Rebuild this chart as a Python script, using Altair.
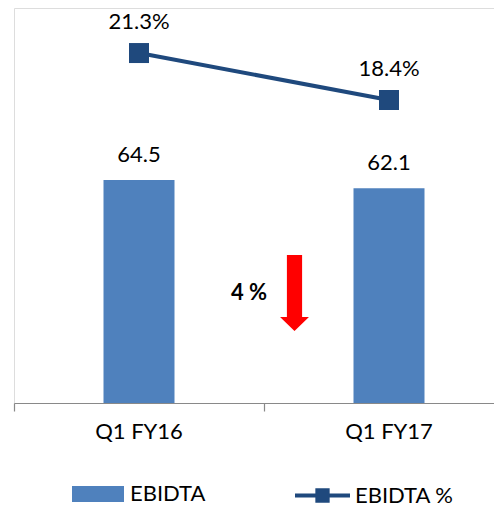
import altair as alt
import pandas as pd

# ---- data ----
categories = ["Q1 FY16", "Q1 FY17"]
ebidta = [64.5, 62.1]
ebidta_pct = [21.3, 18.4]
bar_series = "EBIDTA"
line_series = "EBIDTA %"
change_text = "4 %"

df = pd.DataFrame({
    "quarter": categories,
    "ebidta": ebidta,
    "pct": ebidta_pct,
    "bar_s": [bar_series] * len(categories),
    "line_s": [line_series] * len(categories),
})

FONT = "Lato"
BAR_C = "#4f81bd"
LINE_C = "#1f497d"
AXIS_C = "#898989"

x = alt.X(
    "quarter:N",
    sort=categories,
    scale=alt.Scale(range=[0, 500], paddingInner=0, paddingOuter=0),
    axis=alt.Axis(
        title=None, labelAngle=0, bandPosition=0, grid=False,
        domain=True, ticks=True, labels=True,
        domainColor=AXIS_C, tickColor=AXIS_C, tickSize=8, domainWidth=1.2, tickWidth=1.2,
        labelFontSize=22, labelColor="black", labelPadding=10, labelFont=FONT,
    ),
)

y_bar = alt.Y("ebidta:Q", scale=alt.Scale(domain=[0, 114.26], nice=False, zero=False), axis=None)
y_pct = alt.Y("pct:Q", scale=alt.Scale(domain=[-0.3, 24.08], nice=False, zero=False), axis=None)

bar_legend_shape = "M-1,-0.31L1,-0.31L1,0.31L-1,0.31Z"
line_legend_shape = ("M-1,-0.075L1,-0.075L1,0.075L-1,0.075Z "
                     "M-0.26,-0.26L0.26,-0.26L0.26,0.26L-0.26,0.26Z")

base = alt.Chart(df)

bars = base.mark_bar(size=71).encode(
    x=x, y=y_bar,
    color=alt.Color(
        "bar_s:N",
        scale=alt.Scale(domain=[bar_series], range=[BAR_C]),
        legend=alt.Legend(
            title=None, orient="none", legendX=58, legendY=460, padding=0,
            symbolType=bar_legend_shape, symbolSize=2704, symbolStrokeWidth=0,
            symbolOpacity=1, labelFontSize=22, labelFont=FONT, labelColor="black",
            labelOffset=6,
        ),
    ),
)
bar_labels = base.mark_text(dy=-25, fontSize=22, font=FONT, color="black").encode(
    x=x, y=y_bar, text=alt.Text("ebidta:Q", format=".1f")
)

line = base.mark_line(strokeWidth=4, color=LINE_C).encode(x=x, y=y_pct)
points = base.mark_point(shape="square", size=400, filled=True, opacity=1, strokeWidth=0).encode(
    x=x, y=y_pct,
    fill=alt.Fill(
        "line_s:N",
        scale=alt.Scale(domain=[line_series], range=[LINE_C]),
        legend=alt.Legend(
            title=None, orient="none", legendX=281, legendY=460, padding=0,
            symbolType=line_legend_shape, symbolSize=3025, symbolStrokeWidth=0,
            symbolOpacity=1, labelFontSize=22, labelFont=FONT, labelColor="black",
            labelOffset=5,
        ),
    ),
)
pct_labels = base.transform_calculate(
    lab="format(datum.pct, '.1f') + '%'"
).mark_text(dy=-31, fontSize=22, font=FONT, color="black").encode(
    x=x, y=y_pct, text="lab:N"
)

note_df = pd.DataFrame({"t": [change_text]})
arrow_shape = "M-0.2,-1L0.2,-1L0.2,0.63L0.38,0.63L0,1L-0.38,0.63L-0.2,0.63Z"
arrow = alt.Chart(note_df).mark_point(
    shape=arrow_shape, size=5776, filled=True, color="#ff0000", opacity=1, strokeWidth=0
).encode(x=alt.value(280.5), y=alt.value(285))
note = alt.Chart(note_df).mark_text(
    fontSize=22, font=FONT, fontWeight="bold", color="black"
).encode(x=alt.value(235), y=alt.value(285), text="t:N")

chart = alt.layer(
    alt.layer(bars, bar_labels),
    alt.layer(line, points, pct_labels),
    arrow, note,
).resolve_scale(y="independent").properties(
    width=480, height=395,
    autosize=alt.AutoSizeParams(type="none"),
    padding={"left": 6, "top": 0, "right": 0, "bottom": 105},
).configure_view(
    strokeWidth=0, stroke="transparent"
).configure_axis(
    domain=False, ticks=False, grid=False
).configure_axisY(
    domain=False, ticks=False, labels=False, grid=False
).configure(font=FONT)

chart.save("out.html", embed_options={"renderer": "svg", "actions": False})
